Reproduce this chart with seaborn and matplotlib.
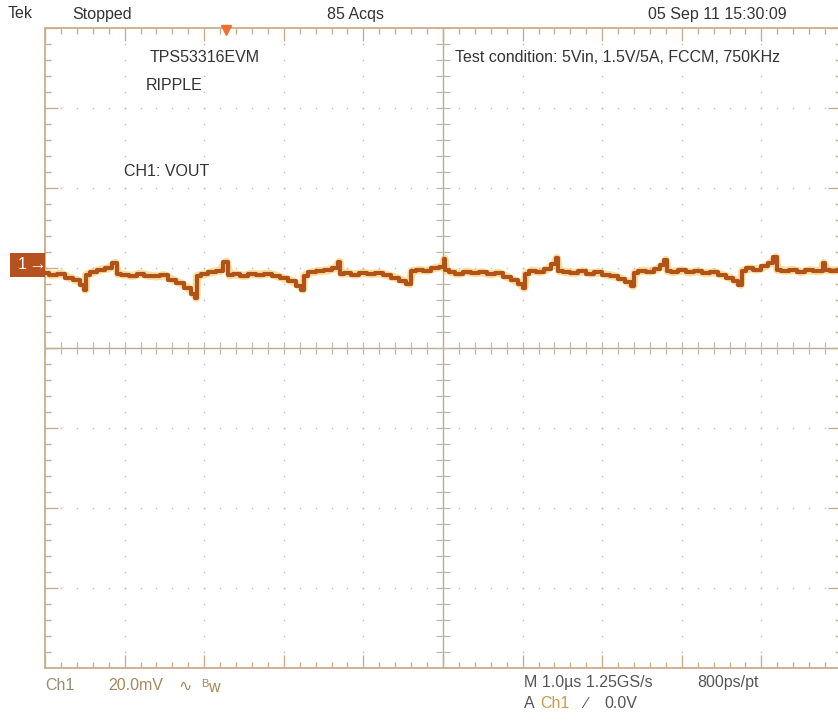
"""
Scope capture: TPS53316EVM output ripple, CH1 VOUT (20 mV/div, 1 us/div).
"""

import numpy as np
import pandas as pd
import matplotlib
matplotlib.use('Agg')
import matplotlib.pyplot as plt
from matplotlib.patches import Rectangle
import seaborn as sns

# trace: time in us (screen centre = 0), level in mV (screen centre = 0)
time_us = [
    -5.00, -4.90, -4.80, -4.70, -4.60, -4.52, -4.49, -4.48, -4.40, -4.30, -4.20, -4.12, -4.08,
    -4.00, -3.90, -3.80, -3.70, -3.60, -3.50, -3.40, -3.30, -3.20, -3.12, -3.10, -3.09, -3.00,
    -2.90, -2.80, -2.72, -2.68,
    -2.60, -2.50, -2.40, -2.30, -2.20, -2.10, -2.00, -1.90, -1.80, -1.76, -1.74, -1.65, -1.55,
    -1.45, -1.35, -1.30, -1.28,
    -1.20, -1.10, -1.00, -0.90, -0.80, -0.70, -0.60, -0.50, -0.42, -0.39, -0.30, -0.20, -0.10,
    0.00, 0.02, 0.04,
    0.10, 0.20, 0.30, 0.40, 0.50, 0.60, 0.70, 0.80, 0.90, 0.98, 1.02, 1.04, 1.12, 1.22, 1.32,
    1.40, 1.43, 1.46,
    1.55, 1.65, 1.75, 1.85, 1.95, 2.05, 2.15, 2.25, 2.33, 2.39, 2.41, 2.50, 2.60, 2.70, 2.76,
    2.80, 2.82,
    2.90, 3.00, 3.10, 3.20, 3.30, 3.40, 3.50, 3.60, 3.68, 3.74, 3.76, 3.85, 3.95, 4.05, 4.12,
    4.18, 4.20,
    4.30, 4.40, 4.50, 4.60, 4.70, 4.76, 4.78, 4.82, 4.90, 5.00,
]
vout_mv = [
    18.8, 18.2, 18.6, 17.6, 16.9, 15.8, 14.6, 18.3, 18.9, 19.6, 19.9, 21.3, 18.5,
    18.3, 18.0, 18.6, 18.1, 17.9, 18.2, 17.1, 16.2, 15.0, 13.4, 12.6, 18.0, 18.4,
    19.0, 19.3, 21.6, 18.2,
    18.4, 18.0, 18.5, 18.3, 18.6, 18.1, 17.4, 16.8, 15.5, 14.6, 18.1, 18.9, 19.2,
    19.4, 20.0, 21.5, 18.6,
    18.7, 18.3, 18.8, 18.5, 18.7, 18.2, 17.6, 16.8, 16.0, 19.2, 19.5, 19.3, 20.0,
    20.3, 22.2, 19.4,
    19.0, 18.5, 19.1, 18.7, 18.9, 18.4, 18.8, 17.8, 16.9, 15.9, 15.0, 18.6, 19.3, 19.0, 19.8,
    21.0, 22.5, 19.3,
    19.0, 18.7, 19.2, 18.6, 18.9, 18.3, 18.0, 17.2, 16.4, 15.5, 18.7, 19.3, 19.1, 19.8, 20.8,
    22.0, 19.3,
    19.0, 19.4, 18.9, 19.2, 18.7, 18.9, 18.3, 17.6, 16.8, 15.8, 19.2, 19.9, 19.6, 20.4, 21.3,
    22.7, 19.6,
    19.3, 19.5, 19.0, 19.4, 19.2, 19.3, 21.2, 19.6, 19.3, 19.5,
]

ch1_position_mv = 20.8      # channel 1 ground marker
trigger_time_us = -2.73     # trigger position marker

header_texts = ['Tek', 'Stopped', '85 Acqs', '05 Sep 11 15:30:09']
notes = ['TPS53316EVM', 'RIPPLE', 'CH1: VOUT',
         'Test condition: 5Vin, 1.5V/5A, FCCM, 750KHz']

TAN = '#c8ae8c'
DOT = '#c4c4c4'
TRACE = '#b0521a'
HALO = '#f0c040'


def px(x, y):
    """Pixel position in the 838x728 capture -> figure fraction."""
    return x / 838, 1 - y / 728


def main():
    sns.set_style('white')
    plt.rcParams['font.family'] = ['Liberation Sans', 'DejaVu Sans']

    df = pd.DataFrame({'t': time_us, 'v': vout_mv})

    fig = plt.figure(figsize=(8.38, 7.28), dpi=100)
    ax = fig.add_axes([45 / 838, 60 / 728, 796 / 838, 640 / 728])
    ax.set_xlim(-5, 5)
    ax.set_ylim(-80, 80)
    ax.set_xticks([])
    ax.set_yticks([])
    for side in ax.spines.values():
        side.set_color(TAN)
        side.set_linewidth(1.3)

    # graticule: dotted division lines
    minor_x = np.arange(-5, 5.001, 0.2)
    minor_y = np.arange(-80, 80.001, 4)
    for gx in range(-4, 5):
        if gx != 0:
            ax.scatter(np.full(len(minor_y), gx), minor_y, s=1.5, color=DOT,
                       linewidths=0, zorder=1)
    for gy in range(-60, 61, 20):
        if gy != 0:
            ax.scatter(minor_x, np.full(len(minor_x), gy), s=1.5, color=DOT,
                       linewidths=0, zorder=1)

    # centre crosshair with minor ticks
    ax.axhline(0, color='#b8aa98', lw=1.0, zorder=1)
    ax.axvline(0, color='#b8aa98', lw=1.0, zorder=1)
    ax.vlines(minor_x, -1.6, 1.6, color='#c0b4a4', lw=0.8, zorder=1)
    ax.hlines(minor_y, -0.09, 0.09, color='#c0b4a4', lw=0.8, zorder=1)

    # border ticks
    for x in minor_x:
        major = abs(x - round(x)) < 1e-6
        ln = 3.2 if major else 1.4
        ax.vlines(x, 80 - ln, 80, color=TAN, lw=1.0, zorder=1)
        ax.vlines(x, -80, -80 + ln, color=TAN, lw=1.0, zorder=1)
    for y in minor_y:
        major = abs(y / 20 - round(y / 20)) < 1e-6
        ln = 0.16 if major else 0.07
        ax.hlines(y, -5, -5 + ln, color=TAN, lw=1.0, zorder=1)
        ax.hlines(y, 5 - ln, 5, color=TAN, lw=1.0, zorder=1)

    # the trace: persistence halo + main trace
    sns.lineplot(data=df, x='t', y='v', ax=ax, color=HALO, lw=6, alpha=0.5,
                 zorder=3)
    sns.lineplot(data=df, x='t', y='v', ax=ax, color=TRACE, lw=3,
                 drawstyle='steps-mid', zorder=4)
    ax.set_xlabel('')
    ax.set_ylabel('')

    # trigger position marker
    ax.plot([trigger_time_us], [79.4], marker='v', ms=7, color='#f07030',
            mec='#f07030', clip_on=False, zorder=5)

    # channel 1 ground marker
    ytr = ax.get_yaxis_transform()
    ax.add_patch(Rectangle((-0.044, ch1_position_mv - 3.0), 0.044, 6.0,
                           transform=ytr, facecolor='#b5521f', edgecolor='none',
                           clip_on=False, zorder=6))
    ax.text(-0.034, ch1_position_mv, '1', transform=ytr, color='white',
            fontsize=11.5, va='center', ha='left', zorder=7)
    ax.text(-0.021, ch1_position_mv, '\u2192', transform=ytr, color='white',
            fontsize=13, va='center', ha='left', zorder=7)

    # header
    fs = 11.5
    fig.text(*px(8, 14), header_texts[0], fontsize=fs, color='#333333', va='center')
    fig.text(*px(72, 14), header_texts[1], fontsize=fs, color='#333333', va='center')
    fig.text(*px(327, 14), header_texts[2], fontsize=fs, color='#333333', va='center')
    fig.text(*px(648, 14), header_texts[3], fontsize=fs, color='#333333', va='center')

    # user notes on screen
    fig.text(*px(150, 57), notes[0], fontsize=fs, color='#333333', va='center')
    fig.text(*px(146, 86), notes[1], fontsize=fs, color='#333333', va='center')
    fig.text(*px(124, 172), notes[2], fontsize=fs, color='#333333', va='center')
    fig.text(*px(455, 57), notes[3], fontsize=fs, color='#333333', va='center')

    # footer readouts
    fig.text(*px(45, 686), 'Ch1', fontsize=fs, color='#9a8a72', va='center')
    fig.text(*px(108, 686), '20.0mV', fontsize=fs, color='#a8875a', va='center')
    fig.text(*px(178, 686), '\u223f', fontsize=fs, color='#a8875a', va='center')
    fig.text(*px(201, 684), 'B', fontsize=8, color='#a8875a', va='center')
    fig.text(*px(208, 688), 'w', fontsize=fs, color='#a8875a', va='center')
    fig.text(*px(524, 683), 'M 1.0\u00b5s 1.25GS/s', fontsize=fs, color='#555555', va='center')
    fig.text(*px(697, 683), '800ps/pt', fontsize=fs, color='#555555', va='center')
    fig.text(*px(524, 703), 'A', fontsize=fs, color='#555555', va='center')
    fig.text(*px(540, 703), 'Ch1', fontsize=fs, color='#c89a50', va='center')
    fig.text(*px(584, 703), '\u2215', fontsize=fs, color='#555555', va='center')
    fig.text(*px(604, 703), '0.0V', fontsize=fs, color='#555555', va='center')

    fig.savefig('out.png', dpi=100, facecolor='white')
    plt.close(fig)


if __name__ == '__main__':
    main()
